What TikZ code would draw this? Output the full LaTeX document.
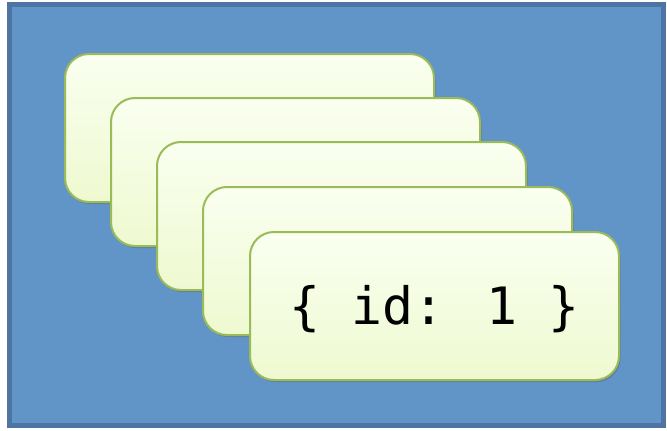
\documentclass[tikz,border=0pt]{standalone}
\usepackage{fontspec}
\newfontfamily\codefont{DejaVu Sans Mono}
\usetikzlibrary{shadows}
\definecolor{bgfill}{HTML}{6194C7}
\definecolor{bgline}{HTML}{4D74A3}
\definecolor{cardtop}{HTML}{FAFFF0}
\definecolor{cardbot}{HTML}{EEF9D0}
\definecolor{cardline}{HTML}{9BBB59}
\tikzset{
  card/.style={draw=cardline, line width=2pt, rounded corners=24pt,
    top color=cardtop, bottom color=cardbot, minimum width=369pt, minimum height=148pt,
    inner sep=0pt, anchor=north west,
    drop shadow={shadow xshift=1.5pt, shadow yshift=-2pt, opacity=0.3, fill=black!70}},
  codetext/.style={font=\codefont\fontsize{51.5}{56}\selectfont, text=black}
}
\begin{document}
\begin{tikzpicture}[x=1pt,y=-1pt]
\useasboundingbox (0,0) rectangle (667,431);
\draw[bgline, line width=5pt, fill=bgfill] (9.5,4.5) rectangle (663.5,425.5);
\node[card] (c1) at (64,53) {};
\node[card] (c2) at (110,97) {};
\node[card] (c3) at (156,141) {};
\node[card] (c4) at (202,186) {};
\node[card] (c5) at (249,231) {};
\node[codetext] (t) at ([yshift=-3pt]c5.center) {\{ id: 1 \}};
\end{tikzpicture}
\end{document}
